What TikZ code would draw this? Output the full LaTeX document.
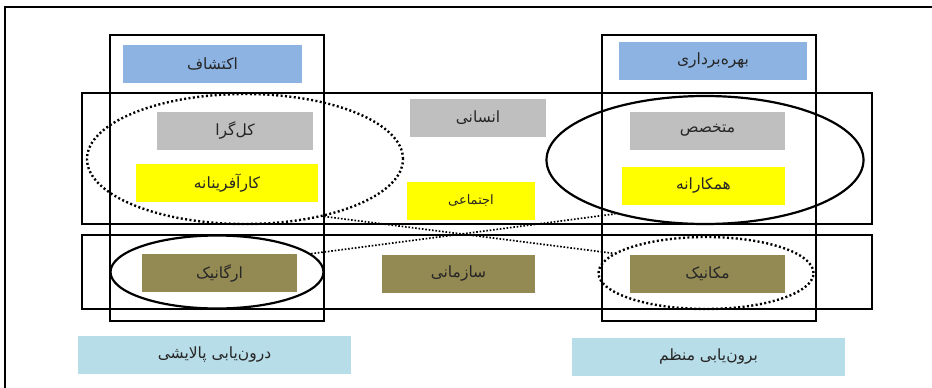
\documentclass[tikz,border=0pt]{standalone}
\usepackage{fontspec}
\newfontfamily\arabicfont[Script=Arabic]{DejaVu Sans}
\TeXXeTstate=1
\usetikzlibrary{shapes.geometric}
\definecolor{kashfblue}{HTML}{8DB3E2}
\definecolor{ensangrey}{HTML}{BFBFBF}
\definecolor{ejtemayellow}{HTML}{FFFF00}
\definecolor{sazmanolive}{HTML}{938953}
\definecolor{yabilight}{HTML}{B7DDE8}
\newcommand{\fatext}[1]{\arabicfont\beginR #1\endR}
\begin{document}
\begin{tikzpicture}[x=1pt, y=-1pt,
  tag/.style = {shape=rectangle, inner sep=0pt, minimum height=38pt,
    font=\fontsize{15.5}{17}\selectfont, text=black!85},
  frame/.style = {draw, line width=2.2pt},
  ring/.style = {shape=ellipse, draw, line width=2.2pt, inner sep=0pt},
  dots/.style = {line width=2.4pt, dash pattern=on 2pt off 2.4pt},
  thin dots/.style = {line width=1.7pt, dash pattern=on 1.6pt off 1.8pt}]
  \useasboundingbox (0,0) rectangle (932,388);
  \draw[line width=2pt] (5,390) -- (5,7) -- (934,7);

  \node[tag, fill=kashfblue, minimum width=179pt] (ekteshaf) at (212.5,63.5) {\fatext{اکتشاف}};
  \node[tag, fill=kashfblue, minimum width=188pt] (bahre) at (713,61) {\fatext{بهره‌برداری}};
  \node[tag, fill=ensangrey, minimum width=156pt] (kolgera) at (235,130.5) {\fatext{کل‌گرا}};
  \node[tag, fill=ensangrey, minimum width=136pt] (ensani) at (478,118) {\fatext{انسانی}};
  \node[tag, fill=ensangrey, minimum width=155pt] (motakhasses) at (707.5,130.5) {\fatext{متخصص}};
  \node[tag, fill=ejtemayellow, minimum width=182pt] (karafarin) at (227,183) {\fatext{کارآفرینانه}};
  \node[tag, fill=ejtemayellow, minimum width=128pt, font=\fontsize{13}{15}\selectfont] (ejtemai) at (471,201) {\fatext{اجتماعی}};
  \node[tag, fill=ejtemayellow, minimum width=163pt] (hamkar) at (703.5,186) {\fatext{همکارانه}};
  \node[tag, fill=sazmanolive, minimum width=155pt] (organic) at (219.5,273) {\fatext{ارگانیک}};
  \node[tag, fill=sazmanolive, minimum width=153pt] (sazmani) at (458.5,274) {\fatext{سازمانی}};
  \node[tag, fill=sazmanolive, minimum width=155pt] (mekanik) at (707.5,274) {\fatext{مکانیک}};
  \node[tag, fill=yabilight, minimum width=273pt] (darun) at (214.5,355) {\fatext{درون‌یابی پالایشی}};
  \node[tag, fill=yabilight, minimum width=273pt] (borun) at (708.5,357) {\fatext{برون‌یابی منظم}};

  \draw[frame] (110,35) rectangle (324,321);
  \draw[frame] (602,35) rectangle (816,321);
  \draw[frame] (82,93) rectangle (872,224);
  \draw[frame] (82,235) rectangle (872,309);

  \node[ring, dots, minimum width=316pt, minimum height=130pt] (kolring) at (245,159) {};
  \node[ring, minimum width=317pt, minimum height=128pt] (takhring) at (705,160) {};
  \node[ring, minimum width=213pt, minimum height=73pt] (orgring) at (217,272) {};
  \node[ring, dots, minimum width=215pt, minimum height=72pt] (mekring) at (706,273) {};

  \draw[thin dots] (kolring.-36) -- (mekring.168);
  \draw[thin dots] (orgring.11) -- (takhring.-149);
\end{tikzpicture}
\end{document}
